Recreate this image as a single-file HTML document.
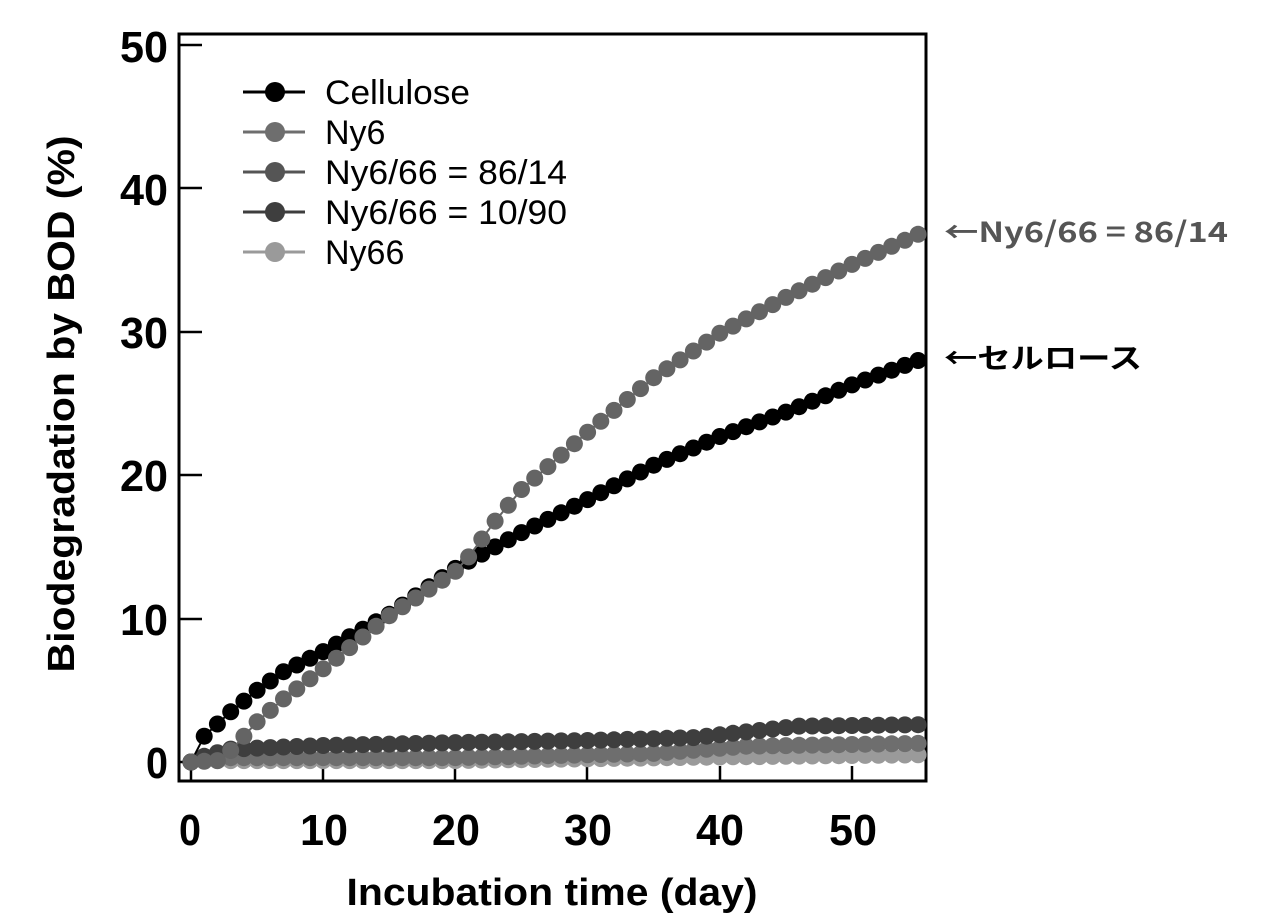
<!DOCTYPE html>
<html><head><meta charset="utf-8"><style>
body{margin:0;background:#fff}
svg{display:block;font-family:"Liberation Sans","Noto Sans CJK JP",sans-serif}
</style></head><body>
<svg id="s" width="1280" height="916" viewBox="0 0 1280 916" xmlns="http://www.w3.org/2000/svg">
<rect x="179" y="34" width="747" height="747" fill="none" stroke="#000" stroke-width="3"/>
<g stroke="#000" stroke-width="2.5">
<line x1="179" y1="45" x2="202" y2="45"/><line x1="179" y1="188" x2="202" y2="188"/>
<line x1="179" y1="332" x2="202" y2="332"/><line x1="179" y1="475" x2="202" y2="475"/>
<line x1="179" y1="619" x2="202" y2="619"/><line x1="179" y1="762" x2="202" y2="762"/>
<line x1="191" y1="781" x2="191" y2="766"/><line x1="323" y1="781" x2="323" y2="766"/>
<line x1="455" y1="781" x2="455" y2="766"/><line x1="587" y1="781" x2="587" y2="766"/>
<line x1="720" y1="781" x2="720" y2="766"/><line x1="852" y1="781" x2="852" y2="766"/>
</g>
<g font-weight="bold" font-size="44" text-anchor="end">
<text x="168" y="62" textLength="48" lengthAdjust="spacingAndGlyphs">50</text>
<text x="168" y="205" textLength="48" lengthAdjust="spacingAndGlyphs">40</text>
<text x="168" y="348" textLength="48" lengthAdjust="spacingAndGlyphs">30</text>
<text x="168" y="491" textLength="48" lengthAdjust="spacingAndGlyphs">20</text>
<text x="168" y="635" textLength="48" lengthAdjust="spacingAndGlyphs">10</text>
<text x="168" y="778" textLength="22" lengthAdjust="spacingAndGlyphs">0</text>
</g>
<g font-weight="bold" font-size="44" text-anchor="middle">
<text x="190" y="845" textLength="22" lengthAdjust="spacingAndGlyphs">0</text>
<text x="324" y="845" textLength="48" lengthAdjust="spacingAndGlyphs">10</text>
<text x="456" y="845" textLength="48" lengthAdjust="spacingAndGlyphs">20</text>
<text x="588" y="845" textLength="48" lengthAdjust="spacingAndGlyphs">30</text>
<text x="720" y="845" textLength="48" lengthAdjust="spacingAndGlyphs">40</text>
<text x="853" y="845" textLength="48" lengthAdjust="spacingAndGlyphs">50</text>
<text x="552" y="905" font-size="38" textLength="411" lengthAdjust="spacingAndGlyphs">Incubation time (day)</text>
<text transform="translate(74,404) rotate(-90)" font-size="38" textLength="537" lengthAdjust="spacingAndGlyphs">Biodegradation by BOD (%)</text>
</g>
<g id="data"></g>
<g font-size="34">
<line x1="243" y1="92" x2="305" y2="92" stroke="#000" stroke-width="3"/><circle cx="275" cy="92" r="10" fill="#000"/><text x="325" y="104" textLength="145" lengthAdjust="spacingAndGlyphs">Cellulose</text>
<line x1="243" y1="132" x2="305" y2="132" stroke="#6e6e6e" stroke-width="3"/><circle cx="275" cy="132" r="10" fill="#6e6e6e"/><text x="325" y="144">Ny6</text>
<line x1="243" y1="172" x2="305" y2="172" stroke="#555" stroke-width="3"/><circle cx="275" cy="172" r="10" fill="#555"/><text x="325" y="184" textLength="242" lengthAdjust="spacingAndGlyphs">Ny6/66 = 86/14</text>
<line x1="243" y1="212" x2="305" y2="212" stroke="#3e3e3e" stroke-width="3"/><circle cx="275" cy="212" r="10" fill="#3e3e3e"/><text x="325" y="224" textLength="242" lengthAdjust="spacingAndGlyphs">Ny6/66 = 10/90</text>
<line x1="243" y1="252" x2="305" y2="252" stroke="#9a9a9a" stroke-width="3"/><circle cx="275" cy="252" r="10" fill="#9a9a9a"/><text x="325" y="264">Ny66</text>
</g>
<text x="944" y="242" font-size="28" font-weight="bold" fill="#555" font-family="Noto Sans CJK JP, sans-serif" textLength="284" lengthAdjust="spacingAndGlyphs">←Ny6/66 = 86/14</text>
<text x="944" y="368" font-size="28" font-weight="bold" fill="#000" font-family="Noto Sans CJK JP, sans-serif" textLength="198" lengthAdjust="spacingAndGlyphs">←セルロース</text>
</svg>
<script>
function interp(pts,d){for(var i=0;i<pts.length-1;i++){var a=pts[i],b=pts[i+1];if(d>=a[0]&&d<=b[0])return a[1]+(b[1]-a[1])*(d-a[0])/(b[0]-a[0]);}return pts[pts.length-1][1];}
var series=[
 ["#9a9a9a",[[0,0],[1,0.1],[20,0.1],[40,0.35],[55,0.5]]],
 ["#6e6e6e",[[0,0],[1,0.3],[20,0.3],[35,0.6],[42,1.1],[55,1.3]]],
 ["#3e3e3e",[[0,0],[1,0.4],[3,0.9],[10,1.15],[20,1.35],[30,1.5],[38,1.7],[42,2.1],[46,2.5],[55,2.6]]],
 ["#000",[[0,0],[1,1.8],[3,3.5],[5,5],[7,6.3],[10,7.7],[15,10.3],[20,13.5],[25,16],[30,18.3],[35,20.7],[40,22.7],[45,24.4],[50,26.3],[55,28]]],
 ["#646464",[[0,0],[2,0.1],[3,0.8],[5,2.8],[7,4.4],[10,6.5],[15,10.2],[20,13.3],[21,14.3],[23,16.8],[25,19],[30,23],[35,26.8],[40,29.9],[45,32.4],[50,34.7],[55,36.8]]]
];
var g=document.getElementById('data'),h="";
series.forEach(function(s){var c=s[0],p="";for(var d=0;d<=55;d++){var x=191+d*13.22,y=762-interp(s[1],d)*14.34;p+=(d?"L":"M")+x.toFixed(1)+","+y.toFixed(1);}
h+='<path d="'+p+'" fill="none" stroke="'+c+'" stroke-width="2"/>';
for(var d=0;d<=55;d++){var x=191+d*13.22,y=762-interp(s[1],d)*14.34;h+='<circle cx="'+x.toFixed(1)+'" cy="'+y.toFixed(1)+'" r="8.5" fill="'+c+'"/>';}});
g.innerHTML=h;
</script>
</body></html>
